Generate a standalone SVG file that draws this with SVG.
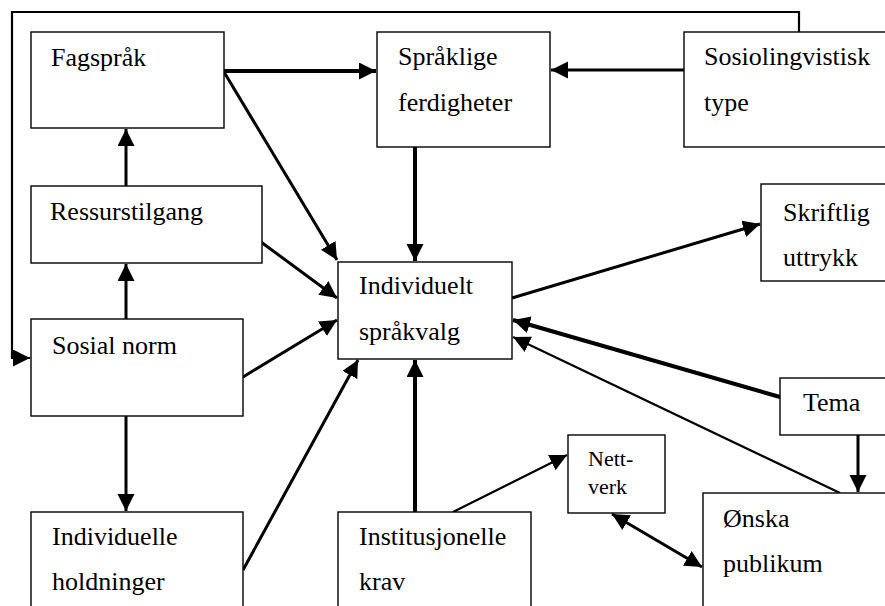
<svg xmlns="http://www.w3.org/2000/svg" width="885" height="606" viewBox="0 0 885 606">
<style>
.box{fill:#fff;stroke:#000;stroke-width:1.4}
.t{font-family:'Liberation Serif','Times New Roman',serif;font-size:26px;fill:#000}
.ts{font-family:'Liberation Serif','Times New Roman',serif;font-size:22px;fill:#000}
.c{fill:none;stroke:#000;stroke-linecap:butt}
.w4{stroke-width:4}
.w3{stroke-width:3}
.w2{stroke-width:2.2}
</style>
<defs>
<marker id="ah" markerUnits="userSpaceOnUse" markerWidth="19" markerHeight="19" refX="17" refY="8.5" orient="auto-start-reverse" viewBox="0 0 19 19">
<path d="M0,0 L17,8.5 L0,17 z" fill="#000"/>
</marker>
</defs>
<rect width="885" height="606" fill="#fff"/>
<g id="connectors">
<polyline class="c w2" points="799,32 799,12 12,12 12,358 30,358" marker-end="url(#ah)"/>
<line class="c w4" x1="224" y1="71" x2="376" y2="71" marker-end="url(#ah)"/>
<line class="c w3" x1="684" y1="70" x2="551" y2="70" marker-end="url(#ah)"/>
<line class="c w4" x1="415" y1="147" x2="415" y2="261" marker-end="url(#ah)"/>
<line class="c w3" x1="224" y1="72" x2="337" y2="260" marker-end="url(#ah)"/>
<line class="c w3" x1="126" y1="186" x2="126" y2="129" marker-end="url(#ah)"/>
<line class="c w3" x1="126" y1="319" x2="126" y2="264" marker-end="url(#ah)"/>
<line class="c w3" x1="261" y1="242" x2="337" y2="298" marker-end="url(#ah)"/>
<line class="c w3" x1="243" y1="377" x2="337" y2="320" marker-end="url(#ah)"/>
<line class="c w3" x1="243" y1="570" x2="358" y2="360" marker-end="url(#ah)"/>
<line class="c w3" x1="126" y1="416" x2="126" y2="511" marker-end="url(#ah)"/>
<line class="c w4" x1="415" y1="512" x2="415" y2="360" marker-end="url(#ah)"/>
<line class="c w3" x1="512" y1="298" x2="760" y2="224" marker-end="url(#ah)"/>
<line class="c w4" x1="780" y1="397" x2="513" y2="320" marker-end="url(#ah)"/>
<line class="c w2" x1="840" y1="493" x2="513" y2="337" marker-end="url(#ah)"/>
<line class="c w3" x1="858" y1="435" x2="858" y2="492" marker-end="url(#ah)"/>
<line class="c w2" x1="453" y1="512" x2="567" y2="455" marker-end="url(#ah)"/>
<line class="c w3" x1="612" y1="514" x2="702" y2="567" marker-start="url(#ah)" marker-end="url(#ah)"/>
</g>
<g id="fagsprak"><rect class="box" x="31" y="32" width="193" height="96"/><text class="t" x="51" y="66">Fagspråk</text></g>
<g id="spraklige"><rect class="box" x="377" y="32" width="173" height="115"/><text class="t" x="398" y="65">Språklige</text><text class="t" x="398" y="111">ferdigheter</text></g>
<g id="sosiolingvistisk"><rect class="box" x="684" y="32" width="210" height="115"/><text class="t" x="704" y="65">Sosiolingvistisk</text><text class="t" x="704" y="111">type</text></g>
<g id="ressurstilgang"><rect class="box" x="31" y="186" width="231" height="77"/><text class="t" x="50" y="220">Ressurstilgang</text></g>
<g id="skriftlig"><rect class="box" x="761" y="184" width="133" height="97"/><text class="t" x="783" y="221">Skriftlig</text><text class="t" x="783" y="266">uttrykk</text></g>
<g id="individuelt"><rect class="box" x="338" y="262" width="174" height="97"/><text class="t" x="359" y="294">Individuelt</text><text class="t" x="359" y="340">språkvalg</text></g>
<g id="sosialnorm"><rect class="box" x="31" y="319" width="212" height="97"/><text class="t" x="52" y="354">Sosial norm</text></g>
<g id="tema"><rect class="box" x="780" y="378" width="114" height="57"/><text class="t" x="803" y="411">Tema</text></g>
<g id="nettverk"><rect class="box" x="568" y="435" width="97" height="78"/><text class="ts" x="588" y="466">Nett-</text><text class="ts" x="588" y="494">verk</text></g>
<g id="individuelle"><rect class="box" x="31" y="512" width="212" height="110"/><text class="t" x="52" y="545">Individuelle</text><text class="t" x="52" y="590">holdninger</text></g>
<g id="institusjonelle"><rect class="box" x="338" y="512" width="193" height="110"/><text class="t" x="359" y="545">Institusjonelle</text><text class="t" x="359" y="590">krav</text></g>
<g id="onska"><rect class="box" x="703" y="493" width="191" height="130"/><text class="t" x="723" y="527">Ønska</text><text class="t" x="723" y="572">publikum</text></g>
</svg>
